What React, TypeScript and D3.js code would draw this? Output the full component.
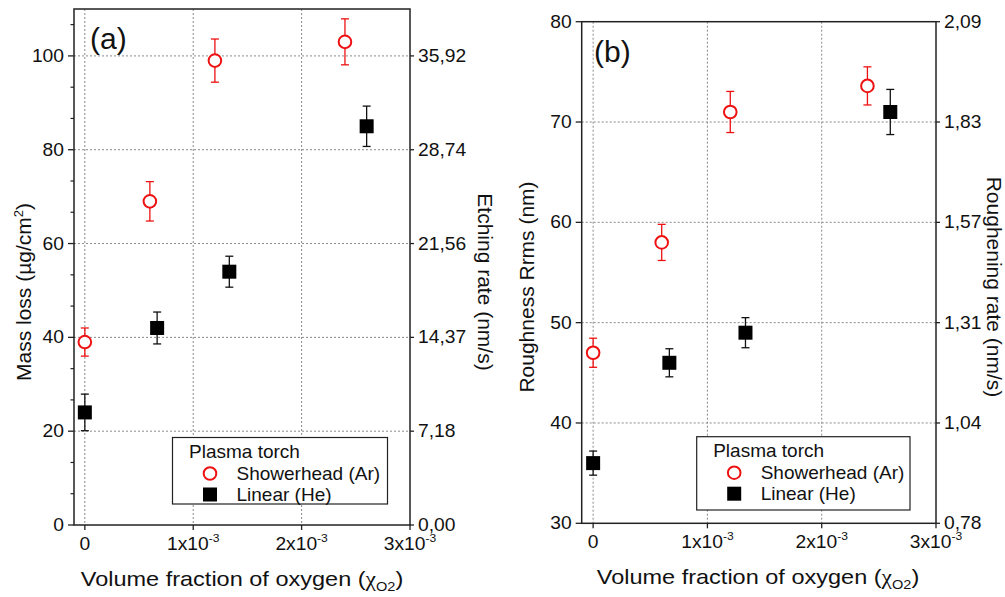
import React from "react";
import * as d3 from "d3";

// ---------- data ----------
const xShower = [0, 0.0006, 0.0012, 0.0024];
const xLinear = [0, 0.000667, 0.001333, 0.0026];

const massShower = [39, 69, 99, 103];
const massShowerErr = [3, 4.2, 4.6, 4.9];
const massLinear = [24, 42, 54, 85];
const massLinearErr = [3.9, 3.4, 3.3, 4.3];

const roughShower = [47, 58, 71, 73.6];
const roughShowerErr = [1.45, 1.8, 2.05, 1.9];
const roughLinear = [36, 46, 49, 71];
const roughLinearErr = [1.2, 1.4, 1.5, 2.25];

const xTickValues = [0, 0.001, 0.002, 0.003];
const xTickMantissa = ["0", "1x10", "2x10", "3x10"];
const xTickExp = ["", "-3", "-3", "-3"];

const massTicks = [0, 20, 40, 60, 80, 100];
const massMinorTicks = [6.67, 13.33, 26.67, 33.33, 46.67, 53.33, 66.67, 73.33, 86.67, 93.33, 106.67];
const etchLabels = ["0,00", "7,18", "14,37", "21,56", "28,74", "35,92"];

const roughTicks = [30, 40, 50, 60, 70, 80];
const roughRateLabels = ["0,78", "1,04", "1,31", "1,57", "1,83", "2,09"];

const legendTitle = "Plasma torch";
const seriesNames = ["Showerhead (Ar)", "Linear (He)"];

const FONT = "'Liberation Sans', Arial, Helvetica, sans-serif";
const RED = "#ee1111";
const SX = "scale(1.1,1)";

type PanelProps = {
  x0: number; x1: number; y0: number; y1: number;
  yDomain: [number, number];
  yTicks: number[];
  yMinor: number[];
  rightLabels: string[];
  sy: number[]; sErr: number[];
  ly: number[]; lErr: number[];
  tag: string; tagX: number; tagY: number;
  leftTitle: React.ReactNode; leftTitleX: number; leftTitleY: number;
  rightTitle: string; rightTitleX: number; rightTitleY: number;
  xTitleX: number; xTitleY: number;
  legend: { x: number; y: number; w: number; h: number };
};

function Panel(p: PanelProps) {
  const x = d3.scaleLinear().domain([-0.0001, 0.003]).range([p.x0, p.x1]);
  const y = d3.scaleLinear().domain(p.yDomain).range([p.y1, p.y0]);
  const gridX = xTickValues.filter((v) => v < 0.003);
  const gridY = p.yTicks.filter((v) => v > p.yDomain[0] && v < p.yDomain[1]);
  const cap = 4;
  const lg = p.legend;
  return (
    <g fontFamily={FONT} fill="#111">
      {/* grid */}
      {gridX.map((v) => (
        <line key={"gx" + v} x1={x(v)} x2={x(v)} y1={p.y0} y2={p.y1} stroke="#8a8a8a" strokeDasharray="2,2" strokeWidth={1} />
      ))}
      {gridY.map((v) => (
        <line key={"gy" + v} x1={p.x0} x2={p.x1} y1={y(v)} y2={y(v)} stroke="#8a8a8a" strokeDasharray="2,2" strokeWidth={1} />
      ))}
      {/* frame */}
      <rect x={p.x0} y={p.y0} width={p.x1 - p.x0} height={p.y1 - p.y0} fill="none" stroke="#222" strokeWidth={1.5} />
      {/* left ticks */}
      {p.yTicks.map((v) => (
        <g key={"yl" + v}>
          <line x1={p.x0 - 6} x2={p.x0} y1={y(v)} y2={y(v)} stroke="#222" strokeWidth={1.3} />
          <text transform={`translate(${p.x0 - 10},${y(v) + 6}) ${SX}`} textAnchor="end" fontSize={17.5}>{v}</text>
        </g>
      ))}
      {p.yMinor.map((v) => (
        <line key={"ym" + v} x1={p.x0 - 3.5} x2={p.x0} y1={y(v)} y2={y(v)} stroke="#222" strokeWidth={1.2} />
      ))}
      {/* right ticks */}
      {p.yTicks.map((v, i) => (
        <g key={"yr" + v}>
          <line x1={p.x1} x2={p.x1 + 4} y1={y(v)} y2={y(v)} stroke="#222" strokeWidth={1.3} />
          <text transform={`translate(${p.x1 + 8},${y(v) + 6}) ${SX}`} textAnchor="start" fontSize={17.5}>{p.rightLabels[i]}</text>
        </g>
      ))}
      {/* bottom ticks */}
      {xTickValues.map((v, i) => (
        <g key={"xt" + v}>
          <line x1={x(v)} x2={x(v)} y1={p.y1} y2={p.y1 + 5} stroke="#222" strokeWidth={1.3} />
          <text transform={`translate(${x(v)},${p.y1 + 24.5}) ${SX}`} textAnchor="middle" fontSize={17.5}>
            {xTickMantissa[i]}
            {xTickExp[i] && (
              <tspan fontSize={11} dy={-8}>{xTickExp[i]}</tspan>
            )}
          </text>
        </g>
      ))}
      {/* error bars */}
      {xShower.map((v, i) => (
        <g key={"es" + i} stroke={RED} strokeWidth={1.3}>
          <line x1={x(v)} x2={x(v)} y1={y(p.sy[i] - p.sErr[i])} y2={y(p.sy[i] + p.sErr[i])} />
          <line x1={x(v) - cap} x2={x(v) + cap} y1={y(p.sy[i] - p.sErr[i])} y2={y(p.sy[i] - p.sErr[i])} />
          <line x1={x(v) - cap} x2={x(v) + cap} y1={y(p.sy[i] + p.sErr[i])} y2={y(p.sy[i] + p.sErr[i])} />
        </g>
      ))}
      {xLinear.map((v, i) => (
        <g key={"el" + i} stroke="#111" strokeWidth={1.3}>
          <line x1={x(v)} x2={x(v)} y1={y(p.ly[i] - p.lErr[i])} y2={y(p.ly[i] + p.lErr[i])} />
          <line x1={x(v) - cap} x2={x(v) + cap} y1={y(p.ly[i] - p.lErr[i])} y2={y(p.ly[i] - p.lErr[i])} />
          <line x1={x(v) - cap} x2={x(v) + cap} y1={y(p.ly[i] + p.lErr[i])} y2={y(p.ly[i] + p.lErr[i])} />
        </g>
      ))}
      {/* markers */}
      {xShower.map((v, i) => (
        <circle key={"ms" + i} cx={x(v)} cy={y(p.sy[i])} r={6.3} fill="#fff" stroke={RED} strokeWidth={2} />
      ))}
      {xLinear.map((v, i) => (
        <rect key={"ml" + i} x={x(v) - 7} y={y(p.ly[i]) - 7} width={14} height={14} fill="#000" />
      ))}
      {/* panel tag */}
      <text x={p.tagX} y={p.tagY} fontSize={30}>{p.tag}</text>
      {/* legend */}
      <rect x={lg.x} y={lg.y} width={lg.w} height={lg.h} fill="#fff" stroke="#222" strokeWidth={1.2} />
      <text x={lg.x + 16.5} y={lg.y + 20.5} fontSize={19}>{legendTitle}</text>
      <circle cx={lg.x + 37.5} cy={lg.y + 36} r={6.3} fill="#fff" stroke={RED} strokeWidth={2} />
      <text x={lg.x + 64} y={lg.y + 42.5} fontSize={19}>{seriesNames[0]}</text>
      <rect x={lg.x + 30.5} y={lg.y + 50} width={14} height={14} fill="#000" />
      <text x={lg.x + 64} y={lg.y + 63} fontSize={19}>{seriesNames[1]}</text>
      {/* axis titles */}
      <text transform={`translate(${p.leftTitleX},${p.leftTitleY}) rotate(-90)`} textAnchor="middle" fontSize={21}>{p.leftTitle}</text>
      <text transform={`translate(${p.rightTitleX},${p.rightTitleY}) rotate(90)`} textAnchor="middle" fontSize={21}>{p.rightTitle}</text>
      <text transform={`translate(${p.xTitleX},${p.xTitleY}) scale(1.12,1)`} textAnchor="middle" fontSize={21}>
        Volume fraction of oxygen (
        <tspan fontFamily="'Liberation Serif', serif" fontSize={21}>χ</tspan>
        <tspan fontSize={13} dy={5}>O2</tspan>
        <tspan dy={-5}>)</tspan>
      </text>
    </g>
  );
}

export default function App() {
  return (
    <svg width={1005} height={597} style={{ position: "absolute", left: 0, top: 0, background: "#fff" }}>
      <Panel
        x0={74} x1={410} y0={9} y1={525}
        yDomain={[0, 110]}
        yTicks={massTicks}
        yMinor={massMinorTicks}
        rightLabels={etchLabels}
        sy={massShower} sErr={massShowerErr}
        ly={massLinear} lErr={massLinearErr}
        tag="(a)" tagX={90} tagY={49}
        leftTitle={<>Mass loss (µg/cm<tspan fontSize={13} dy={-8}>2</tspan><tspan dy={8}>)</tspan></>}
        leftTitleX={31} leftTitleY={292}
        rightTitle="Etching rate (nm/s)" rightTitleX={478} rightTitleY={282}
        xTitleX={242} xTitleY={586}
        legend={{ x: 172.5, y: 437.5, w: 215, h: 66.5 }}
      />
      <Panel
        x0={581.7} x1={936} y0={21.7} y1={523.3}
        yDomain={[30, 80]}
        yTicks={roughTicks}
        yMinor={[]}
        rightLabels={roughRateLabels}
        sy={roughShower} sErr={roughShowerErr}
        ly={roughLinear} lErr={roughLinearErr}
        tag="(b)" tagX={594} tagY={62}
        leftTitle="Roughness Rrms (nm)"
        leftTitleX={534} leftTitleY={287}
        rightTitle="Roughening rate (nm/s)" rightTitleX={987} rightTitleY={287}
        xTitleX={758} xTitleY={584}
        legend={{ x: 696.7, y: 436.7, w: 213.3, h: 73.3 }}
      />
    </svg>
  );
}
